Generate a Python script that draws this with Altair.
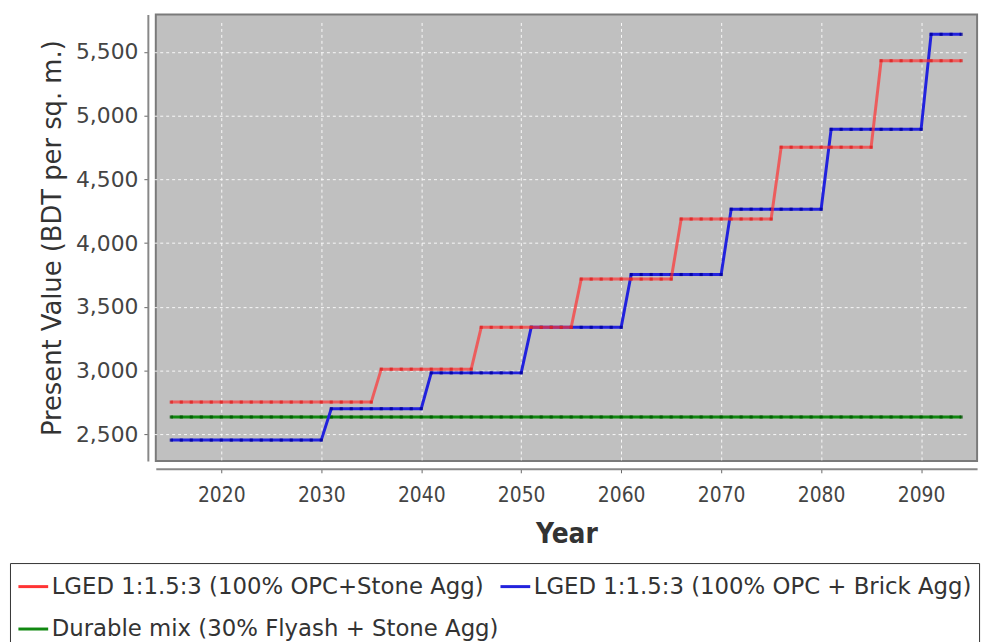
import altair as alt
import pandas as pd

years = list(range(2015, 2095))
series_names = [
    "LGED 1:1.5:3 (100% OPC+Stone Agg)",
    "LGED 1:1.5:3 (100% OPC + Brick Agg)",
    "Durable mix (30% Flyash + Stone Agg)",
]
red_values = ([2754] * 21 + [3012] * 10 + [3340] * 10 + [3718] * 10 +
              [4189] * 10 + [4752] * 10 + [5430] * 9)
blue_values = ([2456] * 16 + [2702] * 10 + [2983] * 10 + [3340] * 10 +
               [3754] * 10 + [4266] * 10 + [4892] * 10 + [5637] * 4)
green_values = [2637] * 80
line_colors = ["#ff3333", "#2222dd", "#118811"]
point_colors = ["#dd2222", "#000099", "#005500"]
x_ticks = [2020, 2030, 2040, 2050, 2060, 2070, 2080, 2090]
y_ticks = [2500, 3000, 3500, 4000, 4500, 5000, 5500]

rows = []
for name, vals in zip(series_names, [red_values, blue_values, green_values]):
    for y, v in zip(years, vals):
        rows.append({"Year": y, "Value": v, "Series": name})
df = pd.DataFrame(rows)

x_enc = alt.X("Year:Q",
              scale=alt.Scale(domain=[2013.45, 2095.6], nice=False, zero=False),
              axis=alt.Axis(values=x_ticks, format="d", title="Year"))
y_enc = alt.Y("Value:Q",
              scale=alt.Scale(domain=[2293, 5792], nice=False, zero=False),
              axis=alt.Axis(values=y_ticks, format=",.0f",
                            title="Present Value (BDT per sq. m.)"))
color_enc = alt.Color("Series:N",
                      scale=alt.Scale(domain=series_names, range=line_colors),
                      legend=alt.Legend(
                          orient="none", legendX=-147, legendY=553,
                          direction="horizontal", columns=2, title=None,
                          symbolType="stroke", symbolSize=900,
                          symbolStrokeWidth=3, labelFont="DejaVu Sans",
                          labelFontSize=23, labelColor="#333333", labelLimit=0,
                          strokeColor="#333333", padding=7, rowPadding=14,
                          columnPadding=-24, labelOffset=2, symbolOffset=0,
                          fillColor="white"))

layers = []
for idx in [2, 1, 0]:
    name = series_names[idx]
    sub = alt.Chart(df).transform_filter(alt.datum.Series == name)
    line = sub.mark_line(strokeWidth=3, opacity=0.7 if idx == 0 else 1.0).encode(
        x=x_enc, y=y_enc, color=color_enc)
    pts = sub.mark_point(shape="square", size=10, filled=True,
                         opacity=0.8).encode(
        x=x_enc, y=y_enc, color=alt.value(point_colors[idx]))
    layers += [line, pts]

chart = alt.layer(*layers).properties(
    width=828, height=450,
    autosize=alt.AutoSizeParams(type="none"),
    padding={"left": 149, "top": 4, "right": 11, "bottom": 180},
).configure_view(
    fill="#c0c0c0", stroke="#7a7a7a", strokeWidth=2
).configure_axis(
    gridColor="white", gridDash=[3, 3], gridWidth=1, gridOpacity=0.9,
    domainColor="#888888", domainWidth=2, offset=8,
    tickColor="#666666", tickSize=4,
    labelColor="#444444", titleColor="#333333",
).configure_axisX(
    labelFont="DejaVu Sans Condensed", labelFontSize=21, labelPadding=12,
    titleFont="DejaVu Sans Condensed", titleFontSize=28, titleFontWeight="bold",
    titlePadding=15,
).configure_axisY(
    labelFont="DejaVu Sans", labelFontSize=22, labelPadding=6,
    titleFont="DejaVu Sans", titleFontSize=26, titleFontWeight="normal",
    titlePadding=10,
)

chart.save("out.html", embed_options={"renderer": "svg", "actions": False})
